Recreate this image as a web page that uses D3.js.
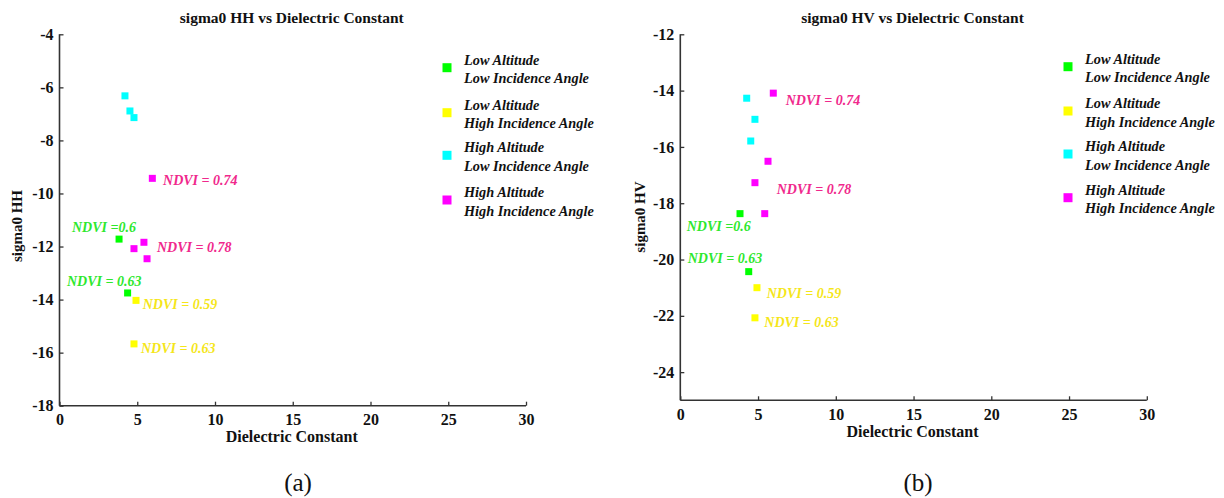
<!DOCTYPE html>
<html>
<head>
<meta charset="utf-8">
<script src="https://cdn.jsdelivr.net/npm/d3@7"></script>
<style>
  html, body { margin: 0; padding: 0; background: #fff; }
  svg { display: block; }
  text { font-family: "Liberation Serif", "Times New Roman", serif; }
</style>
</head>
<body>
<svg id="chart" width="1224" height="498"></svg>
<script>
// ---------- data ----------
const groupLine1 = ["Low Altitude", "Low Altitude", "High Altitude", "High Altitude"];
const groupLine2 = ["Low Incidence Angle", "High Incidence Angle", "Low Incidence Angle", "High Incidence Angle"];
const groupColors = ["#00ff00", "#ffff00", "#00ffff", "#ff00ff"];
const labelColors = ["#2ee82e", "#f5e61a", "#00e5e5", "#f0288c"];

const xTicks = [0, 5, 10, 15, 20, 25, 30];
const hhTicks = [-18, -16, -14, -12, -10, -8, -6, -4];
const hvTicks = [-24, -22, -20, -18, -16, -14, -12];

// sigma0 HH points per group: [dielectric, sigma0]
const hhLowLow   = [[3.83, -11.72], [4.38, -13.75]];
const hhLowHigh  = [[4.92, -14.03], [4.79, -15.67]];
const hhHighLow  = [[4.21, -6.32], [4.53, -6.89], [4.79, -7.14]];
const hhHighHigh = [[5.97, -9.43], [5.43, -11.84], [4.79, -12.08], [5.63, -12.46]];

// sigma0 HV points per group
const hvLowLow   = [[3.84, -18.37], [4.40, -20.43]];
const hvLowHigh  = [[4.93, -21.00], [4.80, -22.07]];
const hvHighLow  = [[4.27, -14.27], [4.80, -15.02], [4.53, -15.79]];
const hvHighHigh = [[5.98, -14.09], [5.64, -16.51], [4.80, -17.27], [5.43, -18.37]];

// NDVI annotations: [x, y, text, group]
const hhNotes = [
  [6.66, -9.49, "NDVI = 0.74", 3],
  [0.80, -11.28, "NDVI =0.6", 0],
  [6.27, -12.02, "NDVI = 0.78", 3],
  [0.48, -13.30, "NDVI = 0.63", 0],
  [5.35, -14.17, "NDVI = 0.59", 1],
  [5.24, -15.82, "NDVI = 0.63", 1]
];
const hvNotes = [
  [6.78, -14.33, "NDVI = 0.74", 3],
  [6.20, -17.50, "NDVI = 0.78", 3],
  [0.41, -18.81, "NDVI =0.6", 0],
  [0.48, -19.96, "NDVI = 0.63", 0],
  [5.56, -21.18, "NDVI = 0.59", 1],
  [5.40, -22.23, "NDVI = 0.63", 1]
];

// ---------- drawing ----------
const svg = d3.select("#chart");

function drawPanel(opt) {
  const g = svg.append("g");
  const x = d3.scaleLinear().domain([0, 30]).range([opt.x0, opt.x1]);
  const y = d3.scaleLinear().domain(opt.yDomain).range([opt.y0, opt.y1]);

  // axes
  const xAxis = d3.axisBottom(x).tickValues(xTicks).tickSize(-4).tickPadding(8).tickFormat(d3.format("d"));
  const yAxis = d3.axisLeft(y).tickValues(opt.yTicks).tickSize(-4).tickPadding(6).tickFormat(d => d3.format("d")(d).replace("−", "-"));

  const gx = g.append("g").attr("transform", `translate(0,${opt.y0})`).call(xAxis);
  const gy = g.append("g").attr("transform", `translate(${opt.x0},0)`).call(yAxis);
  [gx, gy].forEach(a => {
    a.select(".domain").attr("stroke", "#333").attr("stroke-width", 1.6);
    a.selectAll(".tick line").attr("stroke", "#333").attr("stroke-width", 1.3);
    a.selectAll(".tick text").attr("fill", "#111").attr("font-size", 16).attr("font-weight", "bold")
      .style("font-family", "'Liberation Serif', serif");
  });
  gy.select(".domain").attr("d", `M0,${opt.y0}V${opt.y1}`);
  gx.select(".domain").attr("d", `M${opt.x0},0H${opt.x1}`);

  // title
  g.append("text").attr("x", (opt.x0 + opt.x1) / 2 - 1).attr("y", 23)
    .attr("text-anchor", "middle").attr("font-size", 15.5).attr("font-weight", "bold").attr("fill", "#111")
    .text(opt.title);
  // x label
  g.append("text").attr("x", (opt.x0 + opt.x1) / 2 - 1).attr("y", opt.xLabelY)
    .attr("text-anchor", "middle").attr("font-size", 16).attr("font-weight", "bold").attr("fill", "#111")
    .text("Dielectric Constant");
  // y label
  g.append("text").attr("transform", `translate(${opt.yLabelX},${opt.yLabelCy}) rotate(-90)`)
    .attr("text-anchor", "middle").attr("font-size", 15).attr("font-weight", "bold").attr("fill", "#111")
    .text(opt.yLabel);

  // points
  const ms = 7;
  opt.series.forEach((pts, i) => {
    g.selectAll(null).data(pts).enter().append("rect")
      .attr("x", d => x(d[0]) - ms / 2).attr("y", d => y(d[1]) - ms / 2)
      .attr("width", ms).attr("height", ms).attr("fill", groupColors[i]);
  });

  // annotations
  g.selectAll(null).data(opt.notes).enter().append("text")
    .attr("x", d => x(d[0])).attr("y", d => y(d[1]))
    .attr("dy", "0.35em")
    .attr("font-size", 14).attr("font-weight", "bold").attr("font-style", "italic")
    .attr("fill", d => labelColors[d[3]])
    .text(d => d[2]);

  // legend
  const lg = g.append("g");
  groupLine1.forEach((t, i) => {
    const cy = opt.legendY[i];
    lg.append("rect").attr("x", opt.legendX - 4.5).attr("y", cy - 4.5).attr("width", 9).attr("height", 9)
      .attr("fill", groupColors[i]);
    const tx = lg.append("text").attr("x", opt.legendX + 17).attr("y", cy)
      .attr("font-size", 14.3).attr("font-weight", "bold").attr("font-style", "italic").attr("fill", "#111");
    tx.append("tspan").attr("x", opt.legendX + 17).attr("dy", "-0.2em").text(t);
    tx.append("tspan").attr("x", opt.legendX + 17).attr("dy", "1.3em").text(groupLine2[i]);
  });

  // caption
  g.append("text").attr("x", opt.captionX).attr("y", 491)
    .attr("text-anchor", "middle").attr("font-size", 25).attr("fill", "#111")
    .text(opt.caption);
}

drawPanel({
  x0: 59.5, x1: 526, y0: 405.7, y1: 34.3, yDomain: [-18, -4], yTicks: hhTicks,
  title: "sigma0 HH vs Dielectric Constant", yLabel: "sigma0 HH",
  xLabelY: 442, yLabelX: 22, yLabelCy: 226,
  series: [hhLowLow, hhLowHigh, hhHighLow, hhHighHigh], notes: hhNotes,
  legendX: 447, legendY: [67.7, 112.7, 155.3, 200],
  caption: "(a)", captionX: 298
});

drawPanel({
  x0: 680.3, x1: 1146.8, y0: 400.3, y1: 34.3, yDomain: [-25, -12], yTicks: hvTicks,
  title: "sigma0 HV vs Dielectric Constant", yLabel: "sigma0 HV",
  xLabelY: 437, yLabelX: 645, yLabelCy: 217,
  series: [hvLowLow, hvLowHigh, hvHighLow, hvHighHigh], notes: hvNotes,
  legendX: 1068, legendY: [66.7, 111, 154, 197.7],
  caption: "(b)", captionX: 918
});
</script>
</body>
</html>
